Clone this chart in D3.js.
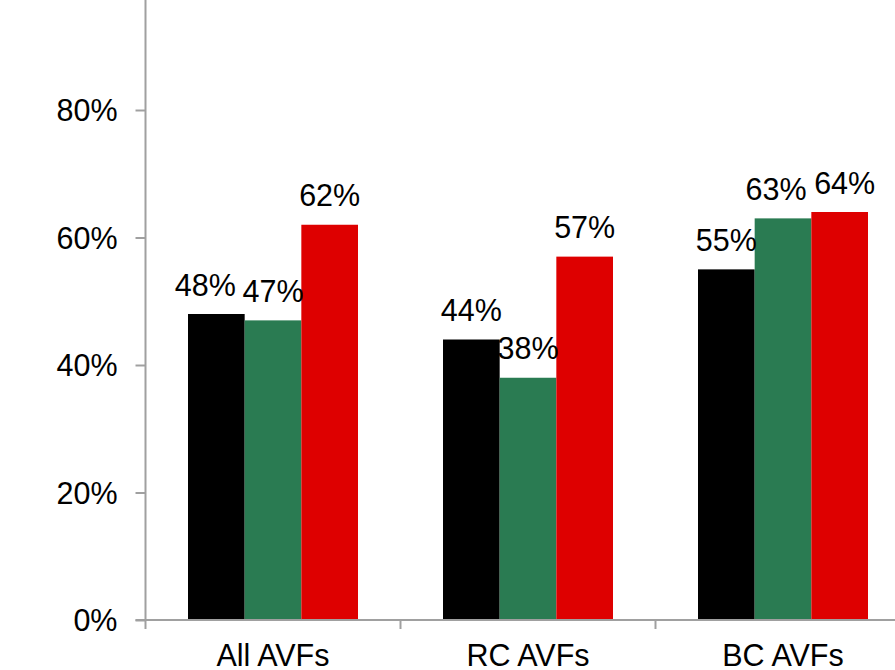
<!DOCTYPE html>
<html>
<head>
<meta charset="utf-8">
<script src="https://cdn.jsdelivr.net/npm/d3@7/dist/d3.min.js"></script>
<style>
  html, body { margin: 0; padding: 0; background: #fff; }
  svg { display: block; }
  text { font-family: "Liberation Sans", Arial, sans-serif; fill: #000; }
</style>
</head>
<body>
<svg id="chart" width="895" height="670"></svg>
<script>
// Access types shown along the x axis
const categories = ["All AVFs", "RC AVFs", "BC AVFs"];
// Three series per category, as fractions
const seriesNames = ["s1", "s2", "s3"];
const seriesBlack = [0.48, 0.44, 0.55];
const seriesGreen = [0.47, 0.38, 0.63];
const seriesRed   = [0.62, 0.57, 0.64];
const yTicks = [0, 0.2, 0.4, 0.6, 0.8];

const colors = ["#000000", "#2a7b52", "#de0000"];
const seriesValues = [seriesBlack, seriesGreen, seriesRed];

const svg = d3.select("#chart");
const x0 = 145.5, yBase = 620;
const fontSize = 30.5;

const x = d3.scaleBand().domain(categories).range([x0, x0 + 255 * categories.length]).paddingInner(0).paddingOuter(0);
const xs = d3.scaleBand().domain(seriesNames).range([42.5, 42.5 + 170]);
const y = d3.scaleLinear().domain([0, 1]).range([yBase, yBase - 637.5]);

const axisColor = "#a0a0a0";

// Bars
const groups = svg.append("g").selectAll("g")
  .data(categories)
  .join("g")
  .attr("transform", d => `translate(${x(d)},0)`);

groups.selectAll("rect")
  .data((c, i) => seriesNames.map((s, j) => ({ s, j, v: seriesValues[j][i], i })))
  .join("rect")
  .attr("x", d => xs(d.s))
  .attr("width", xs.bandwidth())
  .attr("y", d => y(d.v))
  .attr("height", d => yBase - y(d.v))
  .attr("fill", d => colors[d.j]);

// Small horizontal nudges keep neighbouring labels from overlapping
const nudge = [[-11, 0, 0], [0, 0, 0], [0, -7, 5]];

groups.selectAll("text.val")
  .data((c, i) => seriesNames.map((s, j) => ({ s, j, v: seriesValues[j][i], i })))
  .join("text")
  .attr("class", "val")
  .attr("x", d => xs(d.s) + xs.bandwidth() / 2 + nudge[d.i][d.j])
  .attr("y", d => y(d.v) - 18.5)
  .attr("text-anchor", "middle")
  .attr("font-size", fontSize)
  .text(d => Math.round(d.v * 100) + "%");

// Y axis
const yAxis = d3.axisLeft(y).tickValues(yTicks).tickSize(10).tickPadding(18)
  .tickFormat(d => Math.round(d * 100) + "%");
const gy = svg.append("g").attr("transform", `translate(${x0},0)`).call(yAxis);
gy.select(".domain").remove();
gy.append("line").attr("x1", 0).attr("x2", 0).attr("y1", 0).attr("y2", yBase + 1)
  .attr("stroke", axisColor).attr("stroke-width", 2);
gy.selectAll(".tick line").attr("stroke", axisColor).attr("stroke-width", 2);
gy.selectAll(".tick text").attr("font-size", fontSize).attr("fill", "#000").attr("dy", "0.35em")
  .style("font-family", "'Liberation Sans', Arial, sans-serif");

// X axis
const xAxis = d3.axisBottom(x).tickSize(0);
const gx = svg.append("g").attr("transform", `translate(0,${yBase})`).call(xAxis);
gx.select(".domain").remove();
gx.append("line").attr("x1", x0 - 10).attr("x2", 895).attr("y1", 0).attr("y2", 0)
  .attr("stroke", axisColor).attr("stroke-width", 2);
gx.selectAll(".tick text").attr("font-size", fontSize).attr("fill", "#000")
  .attr("y", 46).attr("dy", 0)
  .style("font-family", "'Liberation Sans', Arial, sans-serif");
// Category separators
gx.selectAll("line.sep")
  .data(d3.range(categories.length + 1))
  .join("line")
  .attr("class", "sep")
  .attr("x1", i => x0 + i * 255).attr("x2", i => x0 + i * 255)
  .attr("y1", 0).attr("y2", 9)
  .attr("stroke", axisColor).attr("stroke-width", 2);
</script>
</body>
</html>
